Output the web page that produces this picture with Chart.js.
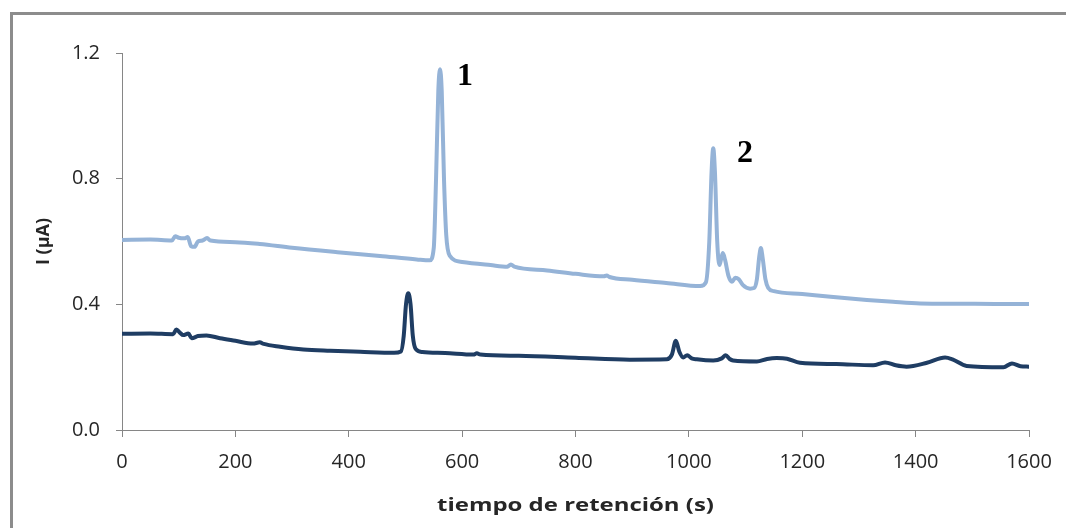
<!DOCTYPE html>
<html>
<head>
<meta charset="utf-8">
<script src="https://cdn.jsdelivr.net/npm/chart.js@4.4.1/dist/chart.umd.min.js"></script>
<style>
html,body{margin:0;padding:0;background:#fff;}
#wrap{position:relative;width:1066px;height:528px;}
canvas{display:block;}
</style>
</head>
<body>
<div id="wrap"><canvas id="c" width="1066" height="528"></canvas></div>
<script>
// ---- data ----
const xTicks = [0, 200, 400, 600, 800, 1000, 1200, 1400, 1600];
const yTicks = [0.0, 0.4, 0.8, 1.2];

const lightTime = [0,50,88,94,100,110,116,122,128,134,142,150,156,200,243,300,380,455,520,543,550,554,558,561,564,568,572,578,600,650,680,686,692,750,800,850,855,860,900,960,1020,1030,1036,1040,1043,1046,1050,1054,1057,1060,1064,1070,1076,1082,1088,1095,1108,1115,1120,1124,1127,1130,1135,1140,1150,1200,1250,1314,1360,1408,1478,1540,1600];
const lightCurrent = [0.605,0.606,0.603,0.617,0.612,0.610,0.614,0.585,0.583,0.600,0.603,0.611,0.603,0.598,0.592,0.580,0.566,0.554,0.543,0.540,0.580,0.800,1.080,1.148,1.080,0.800,0.620,0.555,0.535,0.525,0.520,0.527,0.520,0.508,0.497,0.489,0.492,0.487,0.478,0.468,0.458,0.470,0.600,0.820,0.897,0.820,0.600,0.525,0.545,0.563,0.540,0.490,0.472,0.485,0.480,0.462,0.450,0.452,0.480,0.550,0.579,0.550,0.480,0.452,0.442,0.433,0.424,0.414,0.408,0.403,0.402,0.401,0.401];

const darkTime = [0,50,90,96,102,108,117,123,134,149,173,200,231,243,250,279,320,367,420,480,492,497,501,505,509,513,518,530,570,620,626,632,700,800,896,961,970,977,983,990,997,1005,1014,1043,1058,1065,1072,1078,1120,1138,1155,1173,1196,1260,1325,1346,1365,1384,1420,1452,1465,1490,1555,1570,1585,1600];
const darkCurrent = [0.306,0.307,0.305,0.320,0.310,0.302,0.307,0.292,0.299,0.301,0.292,0.284,0.275,0.279,0.274,0.265,0.256,0.252,0.249,0.246,0.250,0.300,0.400,0.435,0.400,0.300,0.258,0.248,0.245,0.240,0.244,0.240,0.236,0.230,0.224,0.225,0.240,0.284,0.250,0.231,0.238,0.228,0.225,0.221,0.228,0.238,0.226,0.221,0.218,0.226,0.229,0.227,0.214,0.210,0.206,0.215,0.206,0.2015,0.214,0.231,0.225,0.204,0.200,0.212,0.203,0.2015];

const peakLabels = ["1", "2"];
const peakLabelTime = [605, 1099];
const peakLabelCurrent = [1.098, 0.853];

const xTitle = "tiempo de retención (s)";
const yTitle = "I (µA)";

// ---- build ----
const toPts = (xs, ys) => xs.map((x, i) => ({x: x, y: ys[i]}));

const framePlugin = {
  id: 'frame',
  beforeDraw(chart) {
    const ctx = chart.ctx;
    ctx.save();
    ctx.fillStyle = '#ffffff';
    ctx.fillRect(0, 0, chart.width, chart.height);
    ctx.strokeStyle = '#8c8c8c';
    ctx.lineWidth = 3;
    ctx.beginPath();
    ctx.moveTo(11.5, chart.height);
    ctx.lineTo(11.5, 13.5);
    ctx.lineTo(chart.width, 13.5);
    ctx.stroke();
    ctx.restore();
  }
};

const textPlugin = {
  id: 'texts',
  afterDatasetsDraw(chart) {
    const ctx = chart.ctx;
    const xs = chart.scales.x, ys = chart.scales.y;
    const area = chart.chartArea;
    ctx.save();
    ctx.fillStyle = '#000000';
    ctx.font = 'bold 32px "Liberation Serif", "DejaVu Serif", serif';
    ctx.textAlign = 'center';
    ctx.textBaseline = 'alphabetic';
    peakLabels.forEach((t, i) => {
      ctx.fillText(t, xs.getPixelForValue(peakLabelTime[i]), ys.getPixelForValue(peakLabelCurrent[i]));
    });
    // x axis title, slightly widened like the reference
    ctx.fillStyle = '#262626';
    ctx.font = 'bold 18px "Open Sans"';
    ctx.textBaseline = 'middle';
    ctx.translate((area.left + area.right) / 2, 506);
    ctx.scale(1.33, 1);
    ctx.fillText(xTitle, 0, 0);
    ctx.restore();
  }
};

new Chart(document.getElementById('c'), {
  type: 'line',
  data: {
    datasets: [
      {
        label: 'light',
        data: toPts(lightTime, lightCurrent),
        borderColor: '#95B3D7',
        borderWidth: 4,
        pointRadius: 0,
        cubicInterpolationMode: 'monotone',
        borderCapStyle: 'round',
        borderJoinStyle: 'round',
        fill: false
      },
      {
        label: 'dark',
        data: toPts(darkTime, darkCurrent),
        borderColor: '#1F3D63',
        borderWidth: 4,
        pointRadius: 0,
        cubicInterpolationMode: 'monotone',
        borderCapStyle: 'round',
        borderJoinStyle: 'round',
        fill: false
      }
    ]
  },
  options: {
    responsive: false,
    animation: false,
    layout: {padding: {left: 0, right: 37, top: 53, bottom: 0}},
    plugins: {legend: {display: false}, tooltip: {enabled: false}},
    scales: {
      x: {
        type: 'linear',
        min: 0, max: 1600,
        afterBuildTicks: s => { s.ticks = xTicks.map(v => ({value: v})); },
        afterFit: s => { s.height = 98; },
        grid: {display: true, drawOnChartArea: false, drawTicks: true, tickLength: 7, color: '#868686'},
        border: {display: true, color: '#868686', width: 1},
        ticks: {color: '#262626', font: {family: '"Open Sans"', size: 20}, padding: 13, maxRotation: 0, callback: v => String(v)},
        title: {display: false}
      },
      y: {
        type: 'linear',
        min: 0, max: 1.2,
        afterBuildTicks: s => { s.ticks = yTicks.map(v => ({value: v})); },
        afterFit: s => { s.width = 122; },
        grid: {display: true, drawOnChartArea: false, drawTicks: true, tickLength: 6, color: '#868686'},
        border: {display: true, color: '#868686', width: 1},
        ticks: {color: '#262626', font: {family: '"Open Sans"', size: 20}, padding: 16, callback: v => Number(v).toFixed(1)},
        title: {display: true, text: yTitle, color: '#262626', font: {family: '"Open Sans"', size: 18, weight: 'bold'}, padding: {top: 33, bottom: 0}}
      }
    }
  },
  plugins: [framePlugin, textPlugin]
});
</script>
</body>
</html>
